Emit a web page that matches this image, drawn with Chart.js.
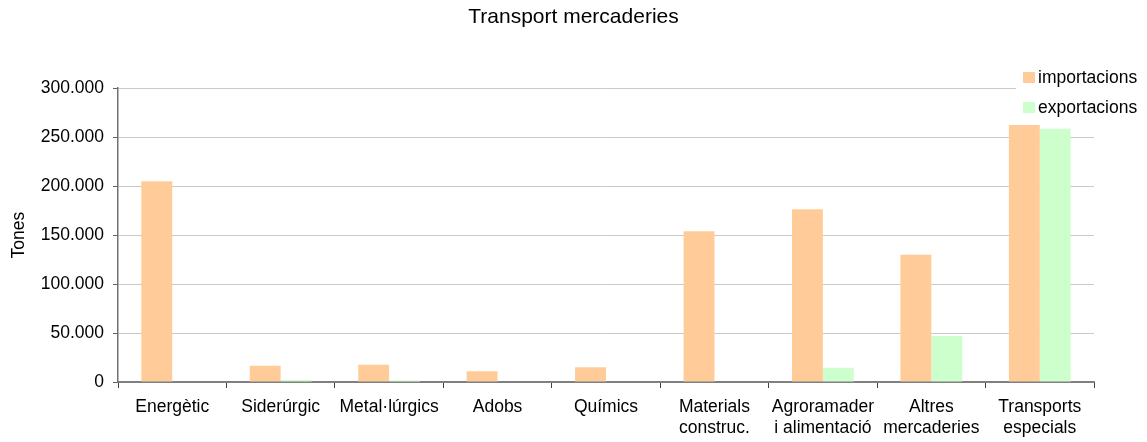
<!DOCTYPE html>
<html lang="ca">
<head>
    <meta charset="UTF-8">
    <title>Transport mercaderies</title>
    <script src="https://cdn.jsdelivr.net/npm/chart.js"></script>
    <style>
        html, body { margin: 0; padding: 0; background: #fff; }
        #wrap { width: 1147px; height: 442px; position: relative; }
    </style>
</head>
<body>
<div id="wrap">
    <canvas id="chartCanvas"></canvas>
</div>

<script>
    // categories and series (tones)
    const categories = [
        'Energètic',
        'Siderúrgic',
        'Metal·lúrgics',
        'Adobs',
        'Químics',
        ['Materials', 'construc.'],
        ['Agroramader', 'i alimentació'],
        ['Altres', 'mercaderies'],
        ['Transports', 'especials']
    ];
    const importacions = [205000, 16500, 17500, 11000, 15000, 154000, 176500, 130000, 262500];
    const exportacions = [0, 2000, 1500, 0, 0, 500, 14500, 47000, 258500];

    const seriesNames = ['importacions', 'exportacions'];
    const seriesColors = ['#FFCC99', '#CCFFCC'];

    const yMin = 0, yMax = 300000, yStep = 50000;

    const FONT = '"Liberation Sans", Arial, sans-serif';

    function thousands(v) {
        return String(v).replace(/\B(?=(\d{3})+(?!\d))/g, '.');
    }

    // legend drawn in the top right corner, over the plot
    const cornerLegend = {
        id: 'cornerLegend',
        afterDraw(chart) {
            const ctx = chart.ctx;
            ctx.save();
            ctx.fillStyle = '#fff';
            ctx.fillRect(1016, 64, 131, 56);
            ctx.font = '17.5px ' + FONT;
            ctx.textBaseline = 'middle';
            chart.data.datasets.forEach((ds, i) => {
                const y = 78 + i * 30;
                ctx.fillStyle = ds.backgroundColor;
                ctx.fillRect(1023, y - 6, 12, 11);
                ctx.fillStyle = '#000';
                ctx.fillText(ds.label, 1038, y);
            });
            ctx.restore();
        }
    };

    Chart.defaults.font.family = FONT;
    Chart.defaults.color = '#000';

    const ctx = document.getElementById('chartCanvas').getContext('2d');
    new Chart(ctx, {
        type: 'bar',
        data: {
            labels: categories,
            datasets: [
                { label: seriesNames[0], data: importacions, backgroundColor: seriesColors[0] },
                { label: seriesNames[1], data: exportacions, backgroundColor: seriesColors[1] }
            ]
        },
        options: {
            responsive: true,
            maintainAspectRatio: false,
            animation: false,
            layout: { padding: 0 },
            datasets: {
                bar: { categoryPercentage: 0.57, barPercentage: 1.0, borderWidth: 0 }
            },
            plugins: {
                legend: { display: false },
                tooltip: { enabled: false },
                title: {
                    display: true,
                    text: 'Transport mercaderies',
                    font: { size: 21, weight: 'normal' },
                    color: '#000',
                    padding: { top: 5, bottom: 58 }
                }
            },
            scales: {
                x: {
                    grid: {
                        offset: true,
                        drawOnChartArea: false,
                        tickLength: 6,
                        tickColor: '#404040'
                    },
                    border: { color: '#808080', width: 2 },
                    ticks: {
                        font: { size: 17.5 },
                        padding: 9,
                        maxRotation: 0,
                        autoSkip: false
                    },
                    afterFit(scale) { scale.height = 60; }
                },
                y: {
                    min: yMin,
                    max: yMax,
                    grid: {
                        color: '#cacaca',
                        tickColor: '#606060',
                        tickLength: 5
                    },
                    border: { color: '#707070', width: 1.5 },
                    ticks: {
                        stepSize: yStep,
                        font: { size: 17.5 },
                        padding: 9,
                        callback: v => thousands(v)
                    },
                    title: {
                        display: true,
                        text: 'Tones',
                        font: { size: 17.5 },
                        padding: { top: 9, bottom: 0 }
                    },
                    afterFit(scale) { scale.width = 118; }
                },
                // empty strip on the right so the plot ends before the legend column
                yRight: {
                    position: 'right',
                    display: true,
                    grid: { display: false, drawTicks: false },
                    border: { display: false },
                    ticks: { display: false },
                    afterFit(scale) { scale.width = 53; }
                }
            }
        },
        plugins: [cornerLegend]
    });
</script>
</body>
</html>
